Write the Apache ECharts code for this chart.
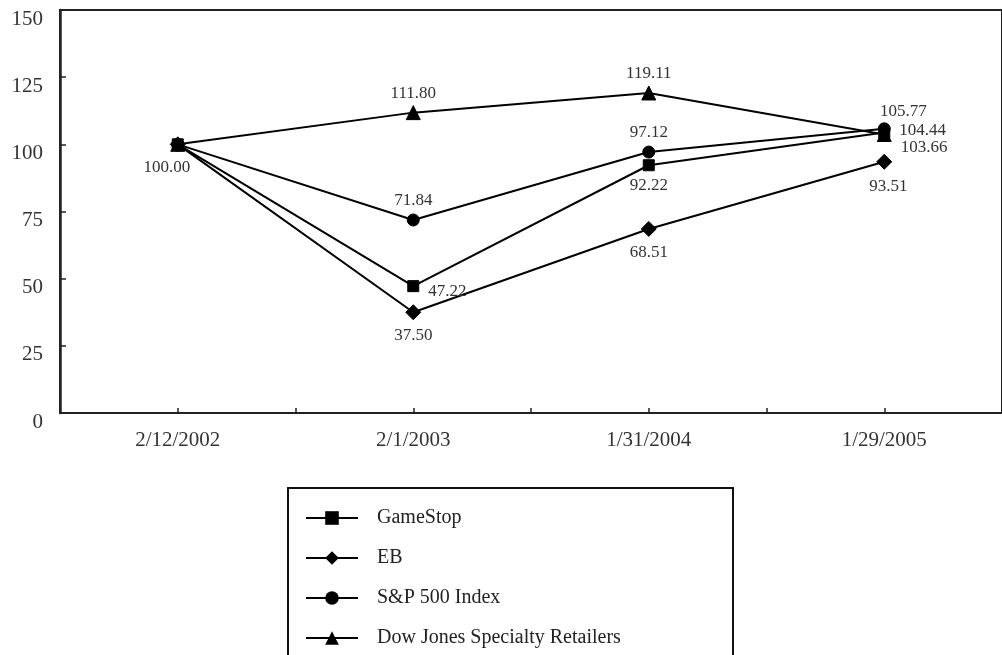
<!DOCTYPE html>
<html>
<head>
<meta charset="utf-8">
<script src="https://cdn.jsdelivr.net/npm/echarts@6/dist/echarts.min.js"></script>
<style>html,body{margin:0;padding:0;background:#fff;}#c{width:1002px;height:655px;}</style>
</head>
<body>
<div id="c"></div>
<script>
const categories = ['2/12/2002', '2/1/2003', '1/31/2004', '1/29/2005'];
const gameStop = [100.00, 47.22, 92.22, 104.44];
const eb = [100.00, 37.50, 68.51, 93.51];
const sp500 = [100.00, 71.84, 97.12, 105.77];
const dowJones = [100.00, 111.80, 119.11, 103.66];
const seriesNames = ['GameStop', 'EB', 'S&P 500 Index', 'Dow Jones Specialty Retailers'];

const FONT = '"Liberation Serif", "Times New Roman", serif';
const labelBase = { show: true, fontFamily: FONT, fontSize: 17, color: '#333' };

// label placement per point: null = no label
const labelPlacement = {
  gs: [null, { position: 'right', offset: [4, 5] }, { position: 'bottom', offset: [0, 1] }, { position: 'right', offset: [4, -2] }],
  eb: [null, { position: 'bottom', offset: [0, 2] }, { position: 'bottom', offset: [0, 2] }, { position: 'bottom', offset: [4, 3] }],
  sp: [{ position: 'bottom', offset: [-11, 3] }, { position: 'top', offset: [0, 1] }, { position: 'top', offset: [0, 0] }, { position: 'top', offset: [19, 3] }],
  dj: [null, { position: 'top', offset: [0, 2] }, { position: 'top', offset: [0, 2] }, { position: 'right', offset: [4, 13] }]
};

function buildData(values, placement) {
  return values.map((v, i) => {
    const p = placement[i];
    return {
      value: v,
      label: p ? Object.assign({}, labelBase, p, { formatter: v.toFixed(2) }) : { show: false }
    };
  });
}

function mkSeries(name, values, symbol, size, placement) {
  return {
    name: name,
    type: 'line',
    data: buildData(values, placement),
    symbol: symbol,
    symbolSize: size,
    showAllSymbol: true,
    lineStyle: { color: '#000', width: 2 },
    itemStyle: { color: '#000', borderColor: '#000' },
    emphasis: { disabled: true },
    animation: false,
    z: 3
  };
}

const chart = echarts.init(document.getElementById('c'), null, { renderer: 'canvas' });
chart.setOption({
  animation: false,
  backgroundColor: '#fff',
  grid: { left: 60, top: 10, width: 946, height: 403, show: true, borderColor: '#222', borderWidth: 2, backgroundColor: 'transparent' },
  xAxis: [{
    type: 'category',
    data: categories,
    boundaryGap: true,
    axisLine: { lineStyle: { color: '#222', width: 2 } },
    axisTick: { show: false },
    axisLabel: { fontFamily: FONT, fontSize: 21, color: '#333', margin: 17 },
    splitLine: { show: false }
  }, {
    type: 'category',
    data: ['', '', '', '', '', '', '', ''],
    boundaryGap: true,
    position: 'bottom',
    axisLine: { show: false },
    axisTick: { show: true, inside: true, length: 5, interval: 0, lineStyle: { color: '#222', width: 1.5 } },
    axisLabel: { show: false },
    splitLine: { show: false }
  }],
  yAxis: {
    type: 'value',
    min: 0, max: 150, interval: 25,
    axisLine: { show: true, lineStyle: { color: '#222', width: 2.5 } },
    axisTick: { show: true, inside: true, length: 6, lineStyle: { color: '#222', width: 1.5 } },
    axisLabel: { fontFamily: FONT, fontSize: 21, color: '#333', margin: 17, verticalAlign: 'top', lineHeight: 18 },
    splitLine: { show: false }
  },
  graphic: [{
    type: 'rect',
    shape: { x: 288, y: 488, width: 445, height: 220 },
    style: { fill: 'transparent', stroke: '#111', lineWidth: 2 },
    silent: true,
    z: 1
  }],
  legend: {
    orient: 'vertical',
    left: 305, top: 508, height: 300,
    data: seriesNames,
    itemWidth: 52, itemHeight: 17, itemGap: 20,
    padding: 0,
    textStyle: { fontFamily: FONT, fontSize: 20, color: '#222', padding: [0, 0, 0, 14] },
    selectedMode: false
  },
  series: [
    mkSeries(seriesNames[0], gameStop, 'rect', 11, labelPlacement.gs),
    mkSeries(seriesNames[1], eb, 'diamond', 15, labelPlacement.eb),
    mkSeries(seriesNames[2], sp500, 'circle', 12, labelPlacement.sp),
    mkSeries(seriesNames[3], dowJones, 'triangle', 14, labelPlacement.dj)
  ]
});
</script>
</body>
</html>
